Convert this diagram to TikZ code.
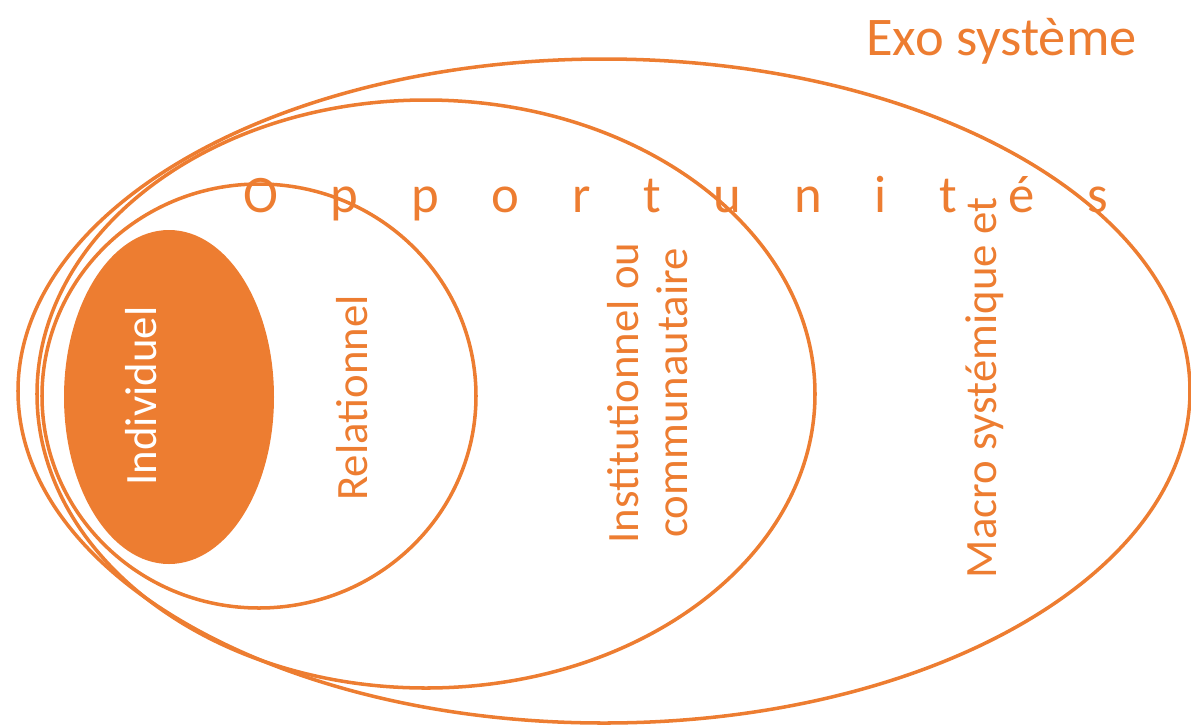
\documentclass[tikz,border=0pt]{standalone}
\usepackage{fontspec}
\setmainfont{Carlito}
\definecolor{accent}{RGB}{237,125,49}
\begin{document}
\begin{tikzpicture}[x=0.02cm,y=-0.02cm,
  ring/.style={draw=accent, line width=2pt},
  lbl/.style={text=accent, rotate=90, inner sep=0pt, font=\fontsize{25.5}{28}\selectfont}]
\useasboundingbox (0,0) rectangle (1191,725);
% the nested levels
\draw [ring] (604,391) ellipse [x radius=586, y radius=332];
\draw [ring] (426,394) ellipse [x radius=389, y radius=294];
\draw [ring] (259,396) ellipse [x radius=217, y radius=212];
\fill [accent] (169,397) ellipse [x radius=105, y radius=167];
% labels
\node[lbl, text=white] (indiv) at (141,396) {Individuel};
\node[lbl] (relat) at (352,398) {Relationnel};
\node[lbl, align=center] (inst) at (648,393) {Institutionnel ou\\communautaire};
\node[lbl] (macro) at (985,388) {Macro systémique et};
\node[anchor=base west, inner sep=0pt, text=accent, font=\fontsize{30}{36}\selectfont\addfontfeature{LetterSpace=100}] (opp) at (243,212) {Opportunités};
\node[anchor=base west, inner sep=0pt, text=accent, font=\fontsize{31}{36}\selectfont] (exo) at (866,55) {Exo système};
\end{tikzpicture}
\end{document}
